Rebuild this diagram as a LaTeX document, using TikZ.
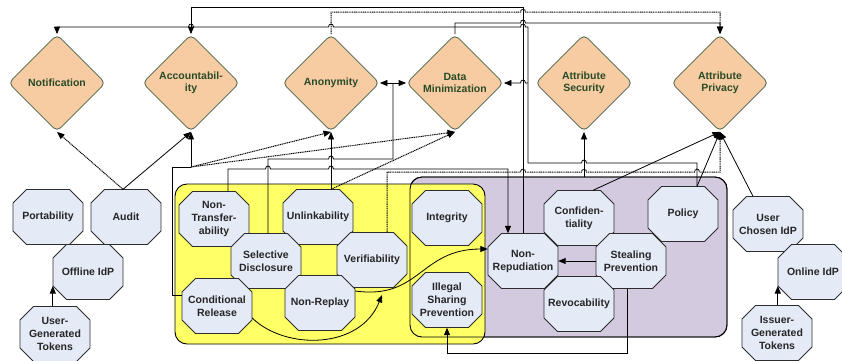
\documentclass[tikz,border=0pt]{standalone}
\usepackage{fontspec}
\setmainfont{Liberation Sans}
\usetikzlibrary{arrows.meta,shapes.geometric,calc}
\definecolor{dfill}{RGB}{248,204,162}
\definecolor{dline}{RGB}{70,100,70}
\definecolor{dtext}{RGB}{40,75,40}
\definecolor{ofill}{RGB}{228,234,246}
\definecolor{oline}{RGB}{45,45,45}
\definecolor{yel}{RGB}{255,255,102}
\definecolor{purp}{RGB}{212,202,224}
\tikzset{
  arr/.style={-{Triangle[length=7.5pt,width=6pt]}},
  ln/.style={line width=0.8pt, black},
  dot/.style={line width=1pt, dash pattern=on 1.1pt off 0.7pt},
  dia/.style={diamond, draw=dline, fill=dfill, line width=0.8pt, rounded corners=5pt,
    minimum width=97pt, minimum height=97pt, inner sep=0pt, aspect=1, align=center,
    font=\fontsize{10.5}{12.5}\selectfont\bfseries, text=dtext},
  octtext/.style={rectangle, minimum width=70pt, minimum height=55pt, inner sep=0pt,
    align=center, font=\fontsize{10.5}{13}\selectfont\bfseries, text=black!85},
  octshape/.style={fill=ofill, draw=oline, line width=0.8pt},
  grpbox/.style={line width=0.9pt, rounded corners=12pt},
}
\newcommand\octo[4]{%
  \path[octshape] ({#2-21.5},{#3-27.5}) -- ({#2+21.5},{#3-27.5}) -- ({#2+35},{#3-14})
    -- ({#2+35},{#3+14}) -- ({#2+21.5},{#3+27.5}) -- ({#2-21.5},{#3+27.5})
    -- ({#2-35},{#3+14}) -- ({#2-35},{#3-14}) -- cycle;
  \node[octtext] (#1) at (#2,#3) {#4};}
\newcommand\hopR[2]{-- ({#1-2.5},#2) .. controls ({#1-2.5},{#2-4}) and ({#1+2.5},{#2-4}) .. ({#1+2.5},#2)}
\newcommand\hopL[2]{-- ({#1+2.5},#2) .. controls ({#1+2.5},{#2-4}) and ({#1-2.5},{#2-4}) .. ({#1-2.5},#2)}
\begin{document}
\begin{tikzpicture}[x=1pt,y=-1pt]
\useasboundingbox (0,0) rectangle (842,360);
% group boxes
\draw[grpbox, fill=purp] (410,177) rectangle (727,337);
\draw[grpbox, fill=yel] (175,184) rectangle (485,344);
\draw[grpbox] (410,177) rectangle (727,337);
% diamonds
\node[dia] (notif) at (57,83) {Notification};
\node[dia] (account) at (191,83) {Accountabil-\\ity};
\node[dia] (anon) at (331,83) {Anonymity};
\node[dia] (datamin) at (455,83) {Data\\Minimization};
\node[dia] (attrsec) at (584,83) {Attribute\\Security};
\node[dia] (attrpriv) at (720,83) {Attribute\\Privacy};
% octagons
\octo{port}{48}{217}{Portability}
\octo{audit}{126}{217}{Audit}
\octo{offidp}{88}{272}{Offline IdP}
\octo{ugt}{55}{334}{User-\\Generated\\Tokens}
\octo{nontrans}{214}{219}{Non-\\Transfer-\\ability}
\octo{unlink}{318}{217}{Unlinkability}
\octo{seldisc}{266}{261}{Selective\\Disclosure}
\octo{verif}{372}{260}{Verifiability}
\octo{condrel}{217}{306}{Conditional\\Release}
\octo{nonreplay}{320}{303}{Non-Replay}
\octo{integ}{447}{218}{Integrity}
\octo{isp}{447}{300}{Illegal\\Sharing\\Prevention}
\octo{nonrep}{523}{261}{Non-\\Repudiation}
\octo{confid}{579}{218}{Confiden-\\tiality}
\octo{policy}{683}{214}{Policy}
\octo{steal}{631}{261}{Stealing\\Prevention}
\octo{revoc}{579}{304}{Revocability}
\octo{ucidp}{768}{224}{User\\Chosen IdP}
\octo{onidp}{813}{272}{Online IdP}
\octo{igt}{777}{333}{Issuer-\\Generated\\Tokens}
% junction coordinates
\coordinate (auditop) at ($(audit.north)+(-3,0)$);
\coordinate (crj) at (191,167);
\coordinate (sdj) at (393,83);
\coordinate (polj) at (528,83);
\coordinate (purtop) at (584,177);
\coordinate (cj) at (382,295);
% audit
\draw[ln,dot,arr] (auditop) -- (notif.south);
\draw[ln,arr] (auditop) -- (account.south);
% idps
\draw[ln,arr] (ugt.north -| offidp.west) -- ($(offidp.west)+(0,14)$);
\draw[ln,arr] (igt.north -| onidp.west) -- ($(onidp.west)+(0,14)$);
% attribute privacy
\draw[ln,arr] ($(ucidp.north)+(-15,0)$) -- (attrpriv.south);
\draw[ln,arr] ($(policy.north)+(14,0)$) -- (attrpriv.south);
\draw[ln,arr] ($(confid.north)+(14,0)$) -- (attrpriv.south);
\draw[ln,dot,arr] ($(verif.north)+(15,0)$) -- (387,172) \hopR{523}{172} \hopR{584}{172} \hopR{697}{172} -- (720,172) -- (attrpriv.south);
% attribute security
\draw[ln,arr] (purtop) -- (attrsec.south);
% policy -> notification / data minimization
\draw[ln,arr] ($(policy.north)+(14,0)$) -- (697,163) \hopL{584}{163} -- (528,163) -- (528,27) \hopL{523}{27} \hopL{331}{27} \hopL{191}{27} -- (57,27) -- (notif.north);
\draw[ln,arr] (polj) \hopL{523}{83} -- (datamin.east);
% non-repudiation -> accountability
\draw[ln,arr] (nonrep.north) -- (523,7) -- (191,7) -- (account.north);
% data minimization -> attribute privacy
\draw[ln,arr] (datamin.north) -- (455,23) \hopR{523}{23} -- (720,23) -- (attrpriv.north);
% anonymity -> attribute privacy
\draw[ln,dot,arr] (anon.north) -- (331,12) \hopR{523}{12} -- (720,12) -- (attrpriv.north);
% conditional release
\draw[ln] ($(condrel.west)+(0,-11)$) -- (172,295) -- (172,167) -- (crj);
\draw[ln,arr] (crj) -- (account.south);
\draw[ln,dot,arr] (crj) -- (anon.south);
\draw[ln,dot,arr] (crj) -- (datamin.south);
% unlinkability
\draw[ln,arr] (unlink.north -| anon.south) -- (anon.south);
\draw[ln,dot,arr] (unlink.north -| anon.south) -- (datamin.south);
% selective disclosure
\draw[ln] ($(seldisc.north)+(2,0)$) -- (268,159) \hopR{331}{159} -- (393,159) -- (sdj);
\draw[ln,arr] (sdj) -- (anon.east);
\draw[ln,arr] (sdj) -- (datamin.west);
% non-transferability
\draw[ln,arr] ($(nontrans.north)+(14,0)$) -- (228,169) \hopR{268}{169} \hopR{331}{169} -- (508,169) -- ($(nonrep.north)+(-15,0)$);
% stealing prevention
\draw[ln,arr] (steal.west) -- (nonrep.east);
\draw[ln,arr] ($(steal.south)+(-4,0)$) -- (627,353) -- (447,353) -- (isp.south);
% curves
\draw[ln,arr] ($(nonreplay.east)+(0,-12)$) .. controls (420,300) and (420,249) .. ($(nonrep.west)+(0,-12)$);
\draw[ln,arr] ($(condrel.east)+(0,12)$) .. controls (285,350) and (360,350) .. (cj);
\end{tikzpicture}
\end{document}
